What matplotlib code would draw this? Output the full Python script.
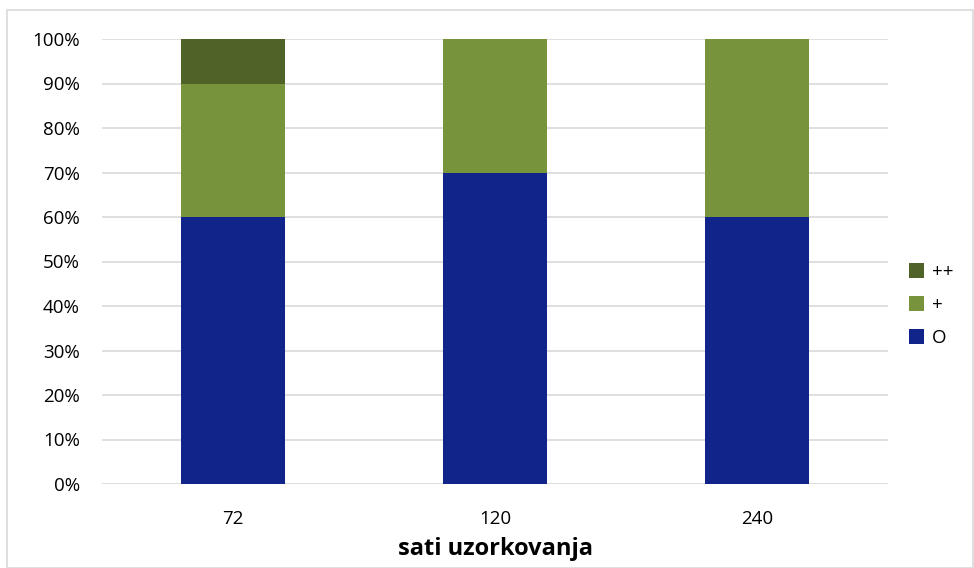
import matplotlib.pyplot as plt
from matplotlib.patches import Rectangle

plt.rcParams['font.family'] = ['Open Sans', 'DejaVu Sans']

hours = ['72', '120', '240']
o_vals = [60, 70, 60]
plus_vals = [30, 30, 40]
plusplus_vals = [10, 0, 0]

c_o = '#10248a'
c_plus = '#77933c'
c_pp = '#4f6228'

fig = plt.figure(figsize=(9.74, 5.68), dpi=100)
ax = fig.add_axes([102 / 974, 1 - 484 / 568, 786 / 974, 445 / 568])

x = range(len(hours))
b1 = ax.bar(x, o_vals, width=0.4, color=c_o, label='O', zorder=3)
b2 = ax.bar(x, plus_vals, width=0.4, bottom=o_vals, color=c_plus, label='+', zorder=3)
bottom2 = [a + b for a, b in zip(o_vals, plus_vals)]
b3 = ax.bar(x, plusplus_vals, width=0.4, bottom=bottom2, color=c_pp, label='++', zorder=3)

ax.set_xlim(-0.5, 2.5)
ax.set_ylim(0, 100)
ax.set_yticks(range(0, 101, 10))
ax.set_yticklabels([f'{v}%' for v in range(0, 101, 10)])
ax.set_xticks(list(x))
ax.set_xticklabels(hours)
ax.tick_params(length=0, labelsize=13.5, colors='#000000')
ax.tick_params(axis='x', pad=19)
ax.tick_params(axis='y', pad=16)
ax.yaxis.grid(True, color='#d9d9d9', linewidth=1.2, zorder=0)
for s in ax.spines.values():
    s.set_visible(False)
ax.set_xlabel('sati uzorkovanja', fontsize=17, fontweight='bold', labelpad=6)

leg = ax.legend([b3, b2, b1], ['++', '+', 'O'], loc='center left',
                bbox_to_anchor=(1.015, 0.402), frameon=False, fontsize=13.5,
                handlelength=0.8, handleheight=0.8, handletextpad=0.4,
                labelspacing=0.8, borderpad=0)

fig.patches.append(Rectangle((7 / 974, 0.0), 966 / 974, 1 - 10 / 568,
                             transform=fig.transFigure, fill=False,
                             edgecolor='#d9d9d9', linewidth=1.2))

fig.savefig('out.png', dpi=100)
